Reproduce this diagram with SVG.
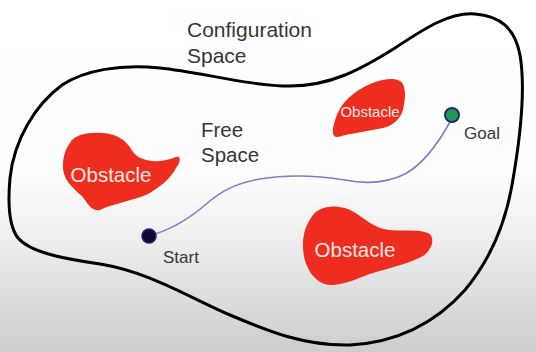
<svg xmlns="http://www.w3.org/2000/svg" width="536" height="352" viewBox="0 0 536 352">
  <defs>
    <linearGradient id="bg" x1="0" y1="0" x2="0" y2="1">
      <stop offset="0" stop-color="#ffffff"/>
      <stop offset="0.5" stop-color="#fdfdfd"/>
      <stop offset="0.65" stop-color="#f1f1f1"/>
      <stop offset="1" stop-color="#cdcdcd"/>
    </linearGradient>
    <style>
      .lbl { font-family: "Liberation Sans", Arial, sans-serif; fill: #363636; }
      .obs { fill: #ef2d1f; }
      .obsText { font-family: "Liberation Sans", Arial, sans-serif; fill: #fbe6e3; text-anchor: middle; }
      .outline { fill: none; stroke: #000; stroke-width: 3; stroke-linejoin: round; }
      .path { fill: none; stroke: #7f7cc9; stroke-width: 1.6; }
    </style>
  </defs>
  <rect width="536" height="352" fill="url(#bg)"/>

  <g id="configuration-space">
    <path class="outline" d="M10,178 C14,140 35,105 62,85 C85,70 120,64 160,68 C200,72 250,86 290,86 C330,86 360,70 395,48 C425,28 450,12 475,14 C500,16 515,28 520,55 C526,90 520,140 512,185 C505,225 490,260 465,290 C440,318 405,342 350,345 C305,346 270,332 230,315 C190,298 150,272 100,264 C60,258 30,252 18,238 C8,225 8,200 10,178 Z"/>
    <text class="lbl" x="187" y="37" font-size="21">Configuration</text>
    <text class="lbl" x="187" y="63" font-size="21">Space</text>
  </g>

  <g id="free-space">
    <text class="lbl" x="201" y="137" font-size="20.5">Free</text>
    <text class="lbl" x="201" y="162" font-size="20.5">Space</text>
  </g>

  <g id="obstacle-left">
    <path class="obs" d="M70,143 C74,134 90,132 103,133 C115,134 125,138 133,152 C140,162 160,164 176,157 C182,155 180,163 176,168 C170,180 158,188 148,194 C135,200 112,204 100,210 C92,212 88,204 82,196 C72,188 62,178 63,165 C63,156 66,148 70,143 Z"/>
    <text class="obsText" x="111" y="182" font-size="20.5">Obstacle</text>
  </g>

  <g id="obstacle-top">
    <path class="obs" d="M400,81 C406,84 406,98 403,110 C400,120 392,126 383,128 C370,131 352,133 338,137 C332,138 332,130 334,124 C337,112 342,103 352,95 C363,86 378,79 392,79 C396,79 398,80 400,81 Z"/>
    <text class="obsText" x="370" y="117" font-size="15">Obstacle</text>
  </g>

  <g id="obstacle-bottom">
    <path class="obs" d="M313,215 C318,208 330,204 345,208 C358,212 365,222 380,228 C395,233 415,228 428,233 C436,237 432,250 423,256 C410,263 390,268 373,273 C360,277 348,284 333,285 C322,286 312,278 307,266 C302,255 302,240 305,230 C307,224 310,219 313,215 Z"/>
    <text class="obsText" x="355" y="257" font-size="20.5">Obstacle</text>
  </g>

  <g id="connectors">
    <path class="path" d="M149,236 C170,230 190,218 205,205 C220,192 235,183 260,179 C290,174 320,176 345,180 C365,184 385,184 405,174 C425,163 440,140 450,122"/>
  </g>

  <g id="start">
    <circle cx="149" cy="236" r="7" fill="#0b0b36" stroke="#25256e" stroke-width="1.5"/>
    <text class="lbl" x="163" y="263" font-size="17">Start</text>
  </g>

  <g id="goal">
    <circle cx="452" cy="115" r="7" fill="#22994f" stroke="#1c2a78" stroke-width="2"/>
    <text class="lbl" x="464" y="139" font-size="17">Goal</text>
  </g>
</svg>
